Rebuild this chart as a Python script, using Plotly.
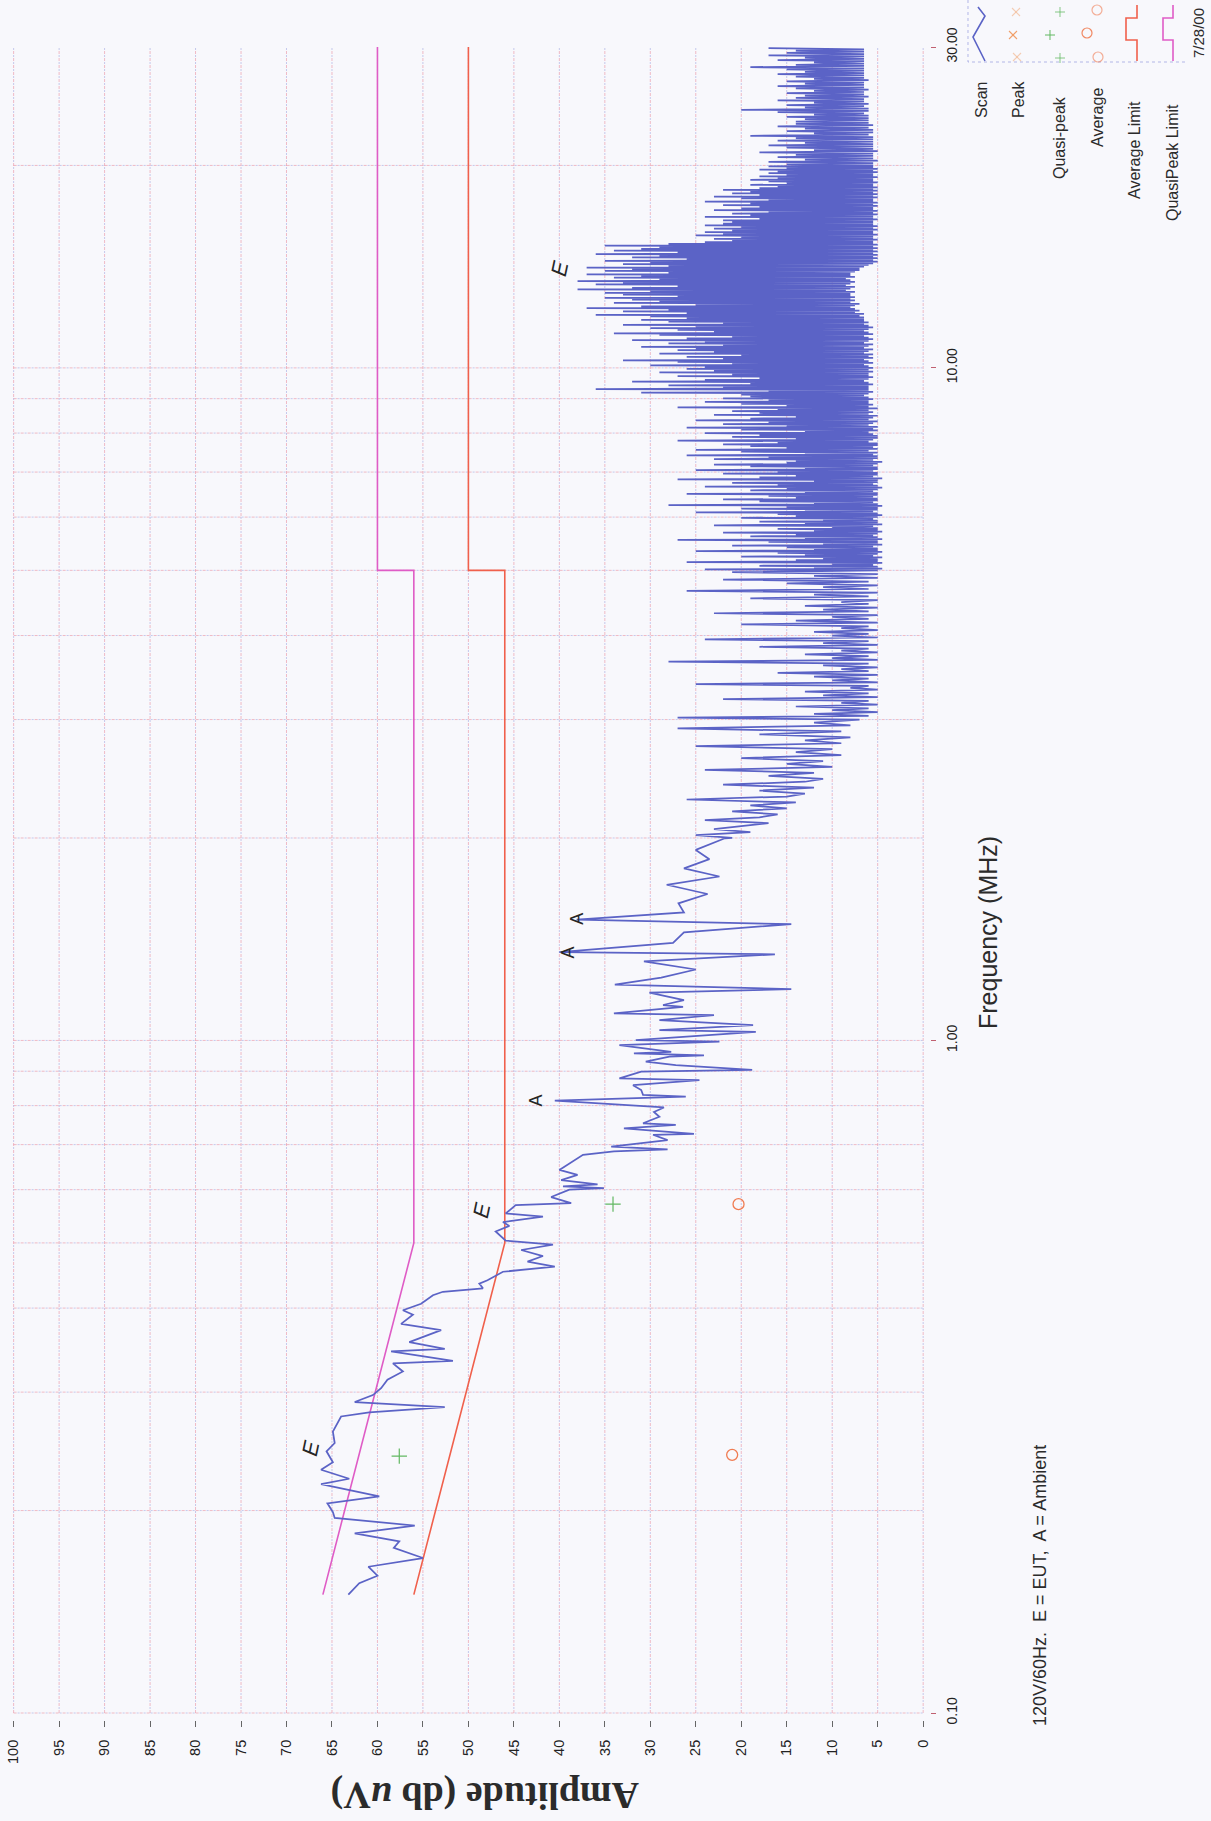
import numpy as np
import plotly.graph_objects as go

W, H = 1211, 1821

# ---------------------------------------------------------------
# Scan trace, 0.15 - 0.69 MHz  (frequency MHz, amplitude dBuV)
scan_lo_freq = [0.150, 0.156, 0.160, 0.165, 0.170, 0.176, 0.180, 0.185, 0.190, 0.195,
                0.199, 0.205, 0.210, 0.219, 0.223, 0.230, 0.236, 0.245, 0.252, 0.262,
                0.276, 0.280, 0.285, 0.290, 0.297, 0.304, 0.313, 0.322, 0.331, 0.334,
                0.345, 0.348, 0.356, 0.371, 0.379, 0.391, 0.397, 0.406, 0.418, 0.423,
                0.428, 0.435, 0.440, 0.453, 0.461, 0.469, 0.478, 0.488, 0.497, 0.504,
                0.520, 0.530, 0.537, 0.547, 0.553, 0.569, 0.573, 0.585, 0.600, 0.603,
                0.607, 0.611, 0.620, 0.631, 0.642, 0.656, 0.676, 0.684]
scan_lo_amp = [63.2, 62.0, 60.0, 61.0, 55.0, 58.2, 57.6, 62.5, 55.9, 64.7,
               64.9, 65.5, 59.8, 66.2, 63.1, 66.2, 64.9, 65.6, 64.7, 64.9,
               64.0, 60.9, 52.6, 62.5, 60.5, 59.6, 58.9, 57.2, 58.3, 51.7,
               58.5, 52.6, 56.5, 53.0, 57.4, 56.1, 57.2, 55.2, 53.9, 52.8,
               48.4, 48.8, 47.9, 46.2, 40.5, 43.5, 41.8, 44.2, 40.7, 45.9,
               47.0, 45.5, 46.2, 41.8, 45.9, 44.8, 38.7, 40.9, 38.9, 35.1,
               39.6, 35.8, 39.8, 38.0, 40.0, 38.9, 37.4, 34.0]

# Scan trace, 0.69 - 2 MHz
scan_mid_freq = [0.689, 0.695, 0.703, 0.711, 0.724, 0.726, 0.740, 0.749, 0.753, 0.770,
                 0.783, 0.795, 0.814, 0.825, 0.830, 0.844, 0.858, 0.873, 0.878, 0.899,
                 0.904, 0.919, 0.930, 0.946, 0.950, 0.957, 0.962, 0.984, 0.996, 1.001,
                 1.030, 1.036, 1.054, 1.072, 1.091, 1.097, 1.122, 1.129, 1.148, 1.178,
                 1.192, 1.211, 1.240, 1.275, 1.311, 1.343, 1.353, 1.397, 1.448, 1.489,
                 1.512, 1.550, 1.599, 1.651, 1.704, 1.753, 1.802, 1.860, 1.920, 1.998]
scan_mid_amp = [28.1, 34.3, 30.8, 28.1, 29.7, 25.2, 32.9, 27.2, 30.8, 29.0,
                29.6, 28.5, 40.5, 26.1, 30.8, 31.0, 31.9, 24.6, 33.4, 31.0,
                18.8, 27.2, 30.5, 27.9, 24.1, 31.8, 27.7, 33.4, 22.4, 31.6,
                18.4, 29.0, 18.7, 29.0, 23.0, 34.0, 26.4, 28.6, 26.3, 30.1,
                14.5, 33.9, 28.8, 25.0, 30.7, 16.3, 40.0, 27.5, 26.3, 14.5,
                38.1, 26.3, 26.9, 23.7, 28.2, 22.4, 26.3, 23.5, 25.0, 21.8]

# Receiver steps 2 - 3 MHz (amplitude at each step)
scan_2_3 = [21, 25, 19, 23, 20, 17, 24, 18, 16, 21, 15, 19, 14, 26, 15, 13, 18, 12, 22, 13,
            11, 17, 12, 24, 10, 15, 11, 20, 9, 14, 10, 25, 9, 13, 8, 18, 9, 27, 8, 12]

# Dense sweep 3 - 30 MHz: peak / floor reading for each pair of receiver steps
peaks_3_5 = [27, 12, 10, 14, 9, 22, 11, 13, 8, 25, 10, 12, 16, 9, 11, 28, 10, 13, 9, 18,
             11, 24, 10, 12, 9, 20, 14, 10, 23, 11, 13, 9, 19, 12, 26, 11, 15, 22, 12, 21]
floors_3_5 = [7, 6, 5, 6, 5, 6, 5, 6, 5, 6, 5, 6, 5, 6, 5, 6, 5, 6, 5, 6,
              5, 6, 5, 6, 5, 6, 5, 6, 5, 6, 5, 6, 5, 6, 5, 6, 5, 6, 5, 5]

peaks_5_10 = [24, 12, 18, 10, 26, 14, 11, 20, 13, 16, 25, 12, 15, 21, 11,
              17, 27, 13, 19, 14, 22, 12, 16, 10, 23, 13, 18, 11, 20, 14,
              16, 25, 13, 20, 15, 28, 12, 18, 22, 14, 17, 26, 13, 19, 15,
              24, 16, 21, 12, 27, 18, 14, 22, 16, 25, 13, 19, 23, 15,
              14, 23, 17, 26, 13, 20, 25, 15, 19, 22, 16, 27, 14, 21, 18,
              24, 13, 20, 26, 15, 22, 17, 25, 19, 14, 23, 18, 21, 16, 27,
              15, 20, 24, 17, 22, 19,
              20, 31, 17, 36, 22, 28, 19, 32, 24, 18, 27, 21, 29, 23, 26]
floors_5_10 = [5, 4.5, 5, 5.5, 4.5, 5, 5, 4.5, 5.5, 5,
               4.5, 5, 5, 5.5, 4.5, 5, 5, 4.5, 5, 5.5,
               5, 4.5, 5, 5, 5.5, 4.5, 5, 5, 5.5, 5,
               4.5, 5, 5.5, 5, 5, 4.5, 5, 5.5, 5, 5,
               5.5, 5, 5, 5.5, 5, 4.5, 5, 5.5, 5, 5,
               4.5, 5.5, 5, 5, 5.5, 5, 5, 5.5, 5, 4.5,
               5.5, 5, 5, 5.5, 5, 6, 5, 5.5, 5, 5,
               6, 5.5, 5, 5, 5.5, 6, 5, 5.5, 5, 6,
               5.5, 5, 6, 5.5, 5, 6, 5.5, 6, 5, 6,
               5.5, 6, 6, 5.5, 6, 6.5, 6, 5.5, 6, 6,
               6, 5.5, 6, 6.5, 6, 5.5, 6, 6, 5.5, 6]

peaks_10_20 = [24, 30, 21, 27, 33, 22, 26, 20, 29, 23, 27, 25, 31, 22, 28,
               24, 32, 26, 21, 29, 34, 23, 27, 30, 25, 33, 22, 28, 31, 26,
               30, 36, 26, 33, 28, 37, 31, 25, 34, 29, 32, 35, 27, 33,
               35, 30, 38, 32, 27, 36, 33, 38, 29, 34, 31, 37, 28, 35, 32,
               37, 28, 33, 30, 35, 26, 32, 29, 36, 27, 34, 31, 29, 35, 28,
               24, 21, 23, 20, 25, 22, 24, 21, 23, 20, 24, 22, 21,
               22, 18, 24, 19, 21, 17, 23, 20, 18, 22, 19, 24, 17, 20, 23, 18, 21, 19, 22,
               18, 16, 19, 15, 17, 19, 16, 18, 15, 17, 16, 18, 15, 17]
floors_10_20 = [5.5, 6, 6.5, 5.5, 6, 6.5, 5.5, 6, 5.5, 6.5, 6, 5.5, 6.5, 6, 5.5,
                6.5, 6, 5.5, 6, 6.5, 5.5, 6, 6.5, 6, 5.5, 6, 6.5, 6, 6.5, 6.5,
                6.5, 7, 6.5, 7.5, 7, 7.5, 8, 7.5, 7, 8, 7.5, 8, 7.5, 8,
                8, 7.5, 8.5, 8, 7.5, 8.5, 8, 7.5, 8, 8.5, 7.5, 8, 8, 7.5, 7,
                7, 6.5, 6, 5.5, 5, 5.5, 5, 5.5, 5, 5.5, 5, 5.5, 5, 5.5, 5,
                5.5, 5.5, 5, 5.5, 5.5, 5, 5.5, 5.5, 5, 5.5, 5, 5.5, 5.5,
                5.5, 5, 5.5, 5.5, 5, 5.5, 5, 5.5, 5.5, 5, 5.5, 5, 5.5, 5.5, 5, 5.5, 5, 5.5, 5,
                5.5, 5, 5.5, 5.5, 5, 5.5, 5.5, 5, 5.5, 5.5, 5, 5.5, 5, 5.5]

peaks_20_30 = [15, 17, 13, 16, 14, 18, 12, 15, 17, 13, 16, 14, 19, 12, 15, 13, 16, 14, 14, 13,
               15, 12, 16, 20, 13, 15, 12, 16, 14, 13, 15, 12, 14, 16, 13, 15, 12, 14, 16, 13,
               15, 19, 14, 12, 16, 13, 17, 15, 14, 17]
floors_20_30 = [5.5, 5.5, 5, 5.5, 5.5, 5.5, 5, 5.5, 5.5, 5.5, 5.5, 5.5, 5.5, 6, 5.5, 5.5, 6, 5.5, 6, 6,
                6, 6, 6.5, 6, 6, 6.5, 6, 6.5, 6.5, 6, 6.5, 6.5, 6, 6.5, 6.5, 6.5, 6, 6.5, 6.5, 6.5,
                6.5, 6.5, 6.5, 6.5, 6.5, 6.5, 6.5, 6.5, 6.5, 6.5]

# Limit lines (CISPR 22 class B, conducted)
qp_limit_freq = [0.15, 0.5, 5.0, 5.0, 30.0]
qp_limit_amp = [66, 56, 56, 60, 60]
avg_limit_freq = [0.15, 0.5, 5.0, 5.0, 30.0]
avg_limit_amp = [56, 46, 46, 50, 50]

# Final measurements
qpeak_freq = [0.241, 0.571]
qpeak_amp = [57.6, 34.1]
average_freq = [0.242, 0.571]
average_amp = [21.0, 20.3]

# Emission / ambient tags
tag_text = ["E", "E", "A", "A", "A", "E"]
tag_freq = [0.247, 0.558, 0.813, 1.353, 1.515, 14.03]
tag_amp = [67.3, 48.5, 42.6, 39.0, 38.0, 39.9]

amp_ticks = list(range(0, 101, 5))
freq_ticks = [0.1, 1.0, 10.0, 30.0]
freq_ticktext = ["0.10", "1.00", "10.00", "30.00"]
freq_grid = [0.1, 0.2, 0.3, 0.4, 0.5, 0.6, 0.7, 0.8, 0.9,
             1, 2, 3, 4, 5, 6, 7, 8, 9, 10, 20]

# ---------------------------------------------------------------
# assemble the scan trace from the receiver sweep bands
def sweep(f0, f1, amps):
    return list(np.geomspace(f0, f1, len(amps), endpoint=False)), list(amps)

def pair_sweep(f0, f1, peaks, floors):
    seq = []
    for fl, pk in zip(floors, peaks):
        seq += [fl, pk]
    return sweep(f0, f1, seq)

scan_f = list(scan_lo_freq) + list(scan_mid_freq)
scan_a = list(scan_lo_amp) + list(scan_mid_amp)
for f, a in [sweep(2.0, 3.0, scan_2_3),
             pair_sweep(3.0, 5.0, peaks_3_5, floors_3_5),
             pair_sweep(5.0, 10.0, peaks_5_10, floors_5_10),
             pair_sweep(10.0, 20.0, peaks_10_20, floors_10_20),
             pair_sweep(20.0, 30.0, peaks_20_30, floors_20_30)]:
    scan_f += f
    scan_a += a

fig = go.Figure()

# dashed two-tone grid
def grid_xy(vertical):
    xs, ys = [], []
    if vertical:
        for a in amp_ticks:
            xs += [a, a, None]
            ys += [0.1, 30, None]
    else:
        for f in freq_grid:
            xs += [100, 0, None]
            ys += [f, f, None]
    return xs, ys

for vertical in (True, False):
    gx, gy = grid_xy(vertical)
    fig.add_trace(go.Scatter(x=gx, y=gy, mode="lines", hoverinfo="skip",
                             line=dict(color="rgba(226,100,122,0.42)", width=1, dash="3px,4px")))
    fig.add_trace(go.Scatter(x=gx, y=gy, mode="lines", hoverinfo="skip",
                             line=dict(color="rgba(104,116,206,0.36)", width=1, dash="0px,4px,2px,1px")))

# limits
fig.add_trace(go.Scatter(x=qp_limit_amp, y=qp_limit_freq, mode="lines",
                         line=dict(color="#df5cc6", width=1.6), name="QuasiPeak Limit"))
fig.add_trace(go.Scatter(x=avg_limit_amp, y=avg_limit_freq, mode="lines",
                         line=dict(color="#f0604c", width=1.6), name="Average Limit"))

# scan
fig.add_trace(go.Scatter(x=scan_a, y=scan_f, mode="lines",
                         line=dict(color="#5b63c6", width=1.75), name="Scan"))

# measurements
fig.add_trace(go.Scatter(x=qpeak_amp, y=qpeak_freq, mode="markers", name="Quasi-peak",
                         marker=dict(symbol="cross-thin-open", size=11, color="#62b862",
                                     line=dict(color="#62b862", width=1.2))))
fig.add_trace(go.Scatter(x=average_amp, y=average_freq, mode="markers", name="Average",
                         marker=dict(symbol="circle-open", size=11, color="#f07c52",
                                     line=dict(color="#f07c52", width=1.3))))

# ---------------------------------------------------------------
# figure pixel -> paper helpers (plot area 10..930 x 47..1720)
ML, MR, MT, MB = 10, 281, 47, 101
PW, PH = W - ML - MR, H - MT - MB

def px(x):
    return (x - ML) / PW

def py(y):
    return (H - MB - y) / PH

annotations = []
for t, f, a in zip(tag_text, tag_freq, tag_amp):
    annotations.append(dict(x=a, y=np.log10(f), xref="x", yref="y", text=t, showarrow=False,
                            xanchor="center", yanchor="middle",
                            textangle=-78 if t == "E" else -90,
                            font=dict(family="Liberation Sans", size=22 if t == "E" else 18,
                                      color="#262626", style="italic" if t == "E" else "normal")))

def note(x, y, text, size, angle=-90, family="Liberation Sans", color="#2b2b2b"):
    annotations.append(dict(x=px(x), y=py(y), xref="paper", yref="paper", text=text,
                            showarrow=False, textangle=angle, xanchor="center", yanchor="middle",
                            font=dict(family=family, size=size, color=color)))

note(988, 933, "Frequency (MHz)", 25)
note(1040, 1586, "120V/60Hz.\u00a0 E = EUT,\u00a0 A = Ambient", 18)
note(485, 1796, "<b>Amplitude (db <i>u</i>V)</b>", 38, angle=180, family="Liberation Serif")

# legend labels
for x, y, t in [(982, 100, "Scan"), (1018, 99, "Peak"), (1060, 138, "Quasi-peak"),
                (1097, 118, "Average"), (1135, 150, "Average Limit"),
                (1172, 163, "QuasiPeak Limit")]:
    note(x, y, t, 16)
note(1198, 33, "7/28/00", 15)

shapes = []

def path(points, color, width=1.5, dash="solid"):
    d = "M " + " L ".join(f"{px(x):.5f},{py(y):.5f}" for x, y in points)
    shapes.append(dict(type="path", path=d, xref="paper", yref="paper",
                       line=dict(color=color, width=width, dash=dash)))

# legend box edges
path([(968, 0), (968, 62), (1188, 62)], "rgba(120,128,214,0.55)", 1, "dot")
# legend glyphs
path([(978, 7), (985, 16), (973, 37), (985, 61)], "#5b63c6", 1.6)
path([(1137, 5), (1137, 18), (1126, 18), (1126, 40), (1137, 40), (1137, 61)], "#f0604c", 1.6)
path([(1173, 5), (1173, 18), (1163, 18), (1163, 40), (1173, 40), (1173, 61)], "#df5cc6", 1.6)
for cx, cy, op in [(1016, 12, 0.45), (1013, 35, 0.9), (1017, 57, 0.45)]:
    path([(cx - 4, cy - 4), (cx + 4, cy + 4)], f"rgba(240,150,90,{op})", 1.1)
    path([(cx - 4, cy + 4), (cx + 4, cy - 4)], f"rgba(240,150,90,{op})", 1.1)
for cx, cy, op in [(1060, 12, 0.7), (1050, 35, 0.9), (1060, 58, 0.7)]:
    path([(cx - 5, cy), (cx + 5, cy)], f"rgba(98,184,98,{op})", 1.1)
    path([(cx, cy - 5), (cx, cy + 5)], f"rgba(98,184,98,{op})", 1.1)
for cx, cy, op in [(1097, 10, 0.6), (1087, 33, 0.9), (1098, 57, 0.6)]:
    shapes.append(dict(type="circle", xref="paper", yref="paper",
                       x0=px(cx - 5), x1=px(cx + 5), y0=py(cy + 5), y1=py(cy - 5),
                       line=dict(color=f"rgba(240,124,82,{op})", width=1.2)))

fig.update_layout(
    width=W, height=H,
    margin=dict(l=ML, r=MR, t=MT, b=MB, pad=0),
    paper_bgcolor="#f8f8fc", plot_bgcolor="#f8f8fc",
    showlegend=False,
    font=dict(family="Liberation Sans", color="#2b2b2b"),
    annotations=annotations,
    shapes=shapes,
    xaxis=dict(range=[100.4, -0.4], domain=[0, 0.99652], anchor="free", position=0,
               tickvals=amp_ticks, ticktext=[str(v) for v in amp_ticks], tickangle=-90,
               ticks="outside", ticklen=6, tickcolor="#666", tickwidth=1,
               ticklabelstandoff=7, showgrid=False, zeroline=False, showline=False,
               tickfont=dict(size=14.5, color="#222"), automargin=False),
    yaxis=dict(type="log", range=[-1.004, np.log10(30)], domain=[0.00257, 1],
               anchor="free", position=1, side="right",
               tickvals=freq_ticks, ticktext=freq_ticktext, tickangle=-90,
               ticks="outside", ticklen=5, tickcolor="#c06070", tickwidth=1,
               ticklabelstandoff=4, showgrid=False, zeroline=False, showline=False,
               tickfont=dict(size=14, color="#222"), automargin=False),
)

fig.write_html("out.html")
